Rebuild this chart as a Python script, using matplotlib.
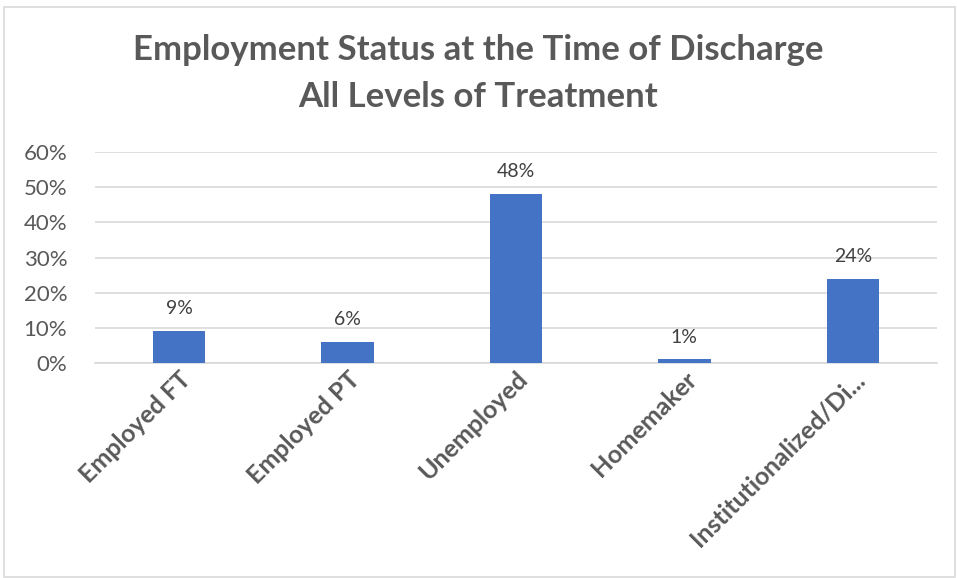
import matplotlib
matplotlib.use("Agg")
import matplotlib.pyplot as plt
from matplotlib.patches import Rectangle
from matplotlib.ticker import PercentFormatter

categories = ["Employed FT", "Employed PT", "Unemployed", "Homemaker", "Institutionalized/Di..."]
values = [9, 6, 48, 1, 24]
yticks = [0, 10, 20, 30, 40, 50, 60]

title_lines = ["Employment Status at the Time of Discharge", "All Levels of Treatment"]

plt.rcParams["font.family"] = ["Lato", "DejaVu Sans"]

fig = plt.figure(figsize=(9.57, 5.78), dpi=100)
fig.patch.set_facecolor("white")

# outer chart frame
fig.add_artist(Rectangle((4 / 957, 0.002), 951 / 957, 1 - 7 / 578 - 0.002,
                         transform=fig.transFigure, fill=False,
                         edgecolor="#D9D9D9", linewidth=1.2))

ax = fig.add_axes([95 / 957, 1 - 363 / 578, 842 / 957, (363 - 152) / 578])
x = range(len(categories))
bars = ax.bar(x, values, width=0.31, color="#4472C4", zorder=3)

ax.set_xlim(-0.5, len(categories) - 0.5)
ax.set_ylim(0, 60)
ax.set_yticks(yticks)
ax.yaxis.set_major_formatter(PercentFormatter(decimals=0))
ax.grid(axis="y", color="#D9D9D9", linewidth=1.2, zorder=0)
for s in ["top", "right", "left"]:
    ax.spines[s].set_visible(False)
ax.spines["bottom"].set_color("#D9D9D9")
ax.spines["bottom"].set_linewidth(1.2)
ax.tick_params(axis="both", length=0)
ax.tick_params(axis="y", labelsize=16, labelcolor="#595959", pad=20)

ax.set_xticks(list(x))
ax.set_xticklabels(categories, rotation=45, ha="right", rotation_mode="anchor",
                   fontsize=18, fontweight="bold", color="#595959")
ax.tick_params(axis="x", pad=3)

for b, v in zip(bars, values):
    ax.annotate(f"{v}%", (b.get_x() + b.get_width() / 2, v), xytext=(0, 10),
                textcoords="offset points", ha="center", va="bottom",
                fontsize=14, color="#404040")

fig.text(0.5, 1 - 50 / 578, title_lines[0], ha="center", va="center",
         fontsize=25, fontweight="bold", color="#595959")
fig.text(0.5, 1 - 97 / 578, title_lines[1], ha="center", va="center",
         fontsize=25, fontweight="bold", color="#595959")

fig.savefig("out.png", dpi=100, facecolor="white")
